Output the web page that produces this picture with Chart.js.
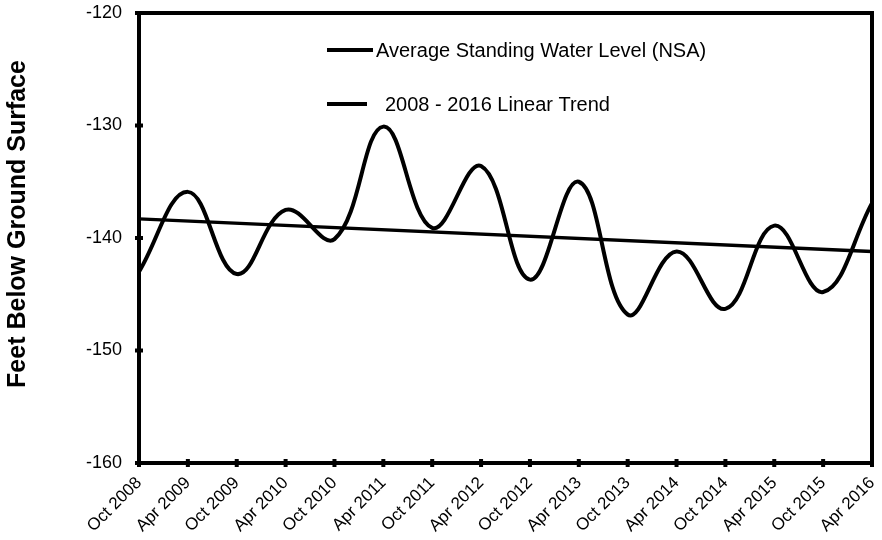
<!DOCTYPE html>
<html><head><meta charset="utf-8">
<script src="https://cdn.jsdelivr.net/npm/chart.js@4/dist/chart.umd.min.js"></script>
<style>html,body{margin:0;padding:0;background:#fff}#wrap{width:882px;height:540px}</style>
</head><body><div id="wrap"><canvas id="c" width="882" height="540"></canvas></div>
<script>
const categories = ['Oct 2008','Apr 2009','Oct 2009','Apr 2010','Oct 2010','Apr 2011','Oct 2011','Apr 2012',
  'Oct 2012','Apr 2013','Oct 2013','Apr 2014','Oct 2014','Apr 2015','Oct 2015','Apr 2016'];
const waterLevel = [-143.0,-135.9,-143.2,-137.5,-140.1,-130.1,-139.1,-133.6,
  -143.7,-135.0,-146.8,-141.2,-146.3,-138.9,-144.8,-136.9];
const trendLine = [-138.3,null,null,null,null,null,null,null,null,null,null,null,null,null,null,-141.2];
const yTickValues = [-160,-150,-140,-130,-120];
const yTitle = 'Feet Below Ground Surface';
const seriesNames = ['Average Standing Water Level (NSA)', '2008 - 2016 Linear Trend'];

const FONT = '"Liberation Sans", Arial, sans-serif';

const decor = {
  id: 'decor',
  afterDraw(chart) {
    const ctx = chart.ctx, a = chart.chartArea;
    const xs = chart.scales.x, ys = chart.scales.y;
    ctx.save();
    ctx.strokeStyle = '#000';
    ctx.fillStyle = '#000';
    // frame
    ctx.lineWidth = 4;
    ctx.beginPath();
    ctx.moveTo(a.left, a.bottom); ctx.lineTo(a.left, a.top); ctx.lineTo(a.right, a.top); ctx.lineTo(a.right, a.bottom); ctx.closePath();
    ctx.stroke();
    // crossing tick marks
    categories.forEach((c, i) => {
      const px = xs.getPixelForValue(i);
      ctx.fillRect(px - 2, a.bottom - 4, 4, 8);
    });
    yTickValues.forEach(v => {
      const py = ys.getPixelForValue(v);
      ctx.fillRect(a.left - 4, py - 2, 8, 4);
    });
    // legend
    ctx.font = '20px ' + FONT;
    ctx.textBaseline = 'middle';
    ctx.lineWidth = 4;
    ctx.beginPath(); ctx.moveTo(327, 50); ctx.lineTo(373, 50); ctx.stroke();
    ctx.fillText(chart.data.datasets[0].label, 376, 51);
    ctx.beginPath(); ctx.moveTo(327, 104); ctx.lineTo(367, 104); ctx.stroke();
    ctx.fillText(chart.data.datasets[1].label, 385, 105);
    // y title
    ctx.translate(25, 224);
    ctx.rotate(-Math.PI / 2);
    ctx.textAlign = 'center';
    ctx.textBaseline = 'alphabetic';
    ctx.font = 'bold 25px ' + FONT;
    ctx.fillText(yTitle, 0, 0);
    ctx.restore();
  }
};

new Chart(document.getElementById('c'), {
  type: 'line',
  data: {
    labels: categories,
    datasets: [
      { label: seriesNames[0], data: waterLevel, borderColor: '#000', borderWidth: 4, pointRadius: 0, tension: 0.4, fill: false },
      { label: seriesNames[1], data: trendLine, borderColor: '#000', borderWidth: 3.5, pointRadius: 0, tension: 0, spanGaps: true, fill: false }
    ]
  },
  options: {
    responsive: false,
    animation: false,
    events: [],
    layout: { padding: { left: 0, right: 10, top: 13, bottom: 0 } },
    plugins: { legend: { display: false }, tooltip: { enabled: false } },
    scales: {
      x: {
        type: 'category',
        offset: false,
        grid: { display: false, drawOnChartArea: false, drawTicks: false },
        border: { display: false },
        ticks: { color: '#000', font: { family: FONT, size: 17 }, maxRotation: 45, minRotation: 45, autoSkip: false, padding: 10 },
        afterFit(s) { s.height = 77; s.paddingLeft = 0; s.paddingRight = 0; }
      },
      y: {
        min: -160, max: -120,
        grid: { display: false, drawOnChartArea: false, drawTicks: false },
        border: { display: false },
        ticks: { color: '#000', font: { family: FONT, size: 18 }, stepSize: 10, padding: 17 },
        afterFit(s) { s.width = 139; s.paddingTop = 0; s.paddingBottom = 0; }
      }
    }
  },
  plugins: [decor]
});
</script></body></html>
